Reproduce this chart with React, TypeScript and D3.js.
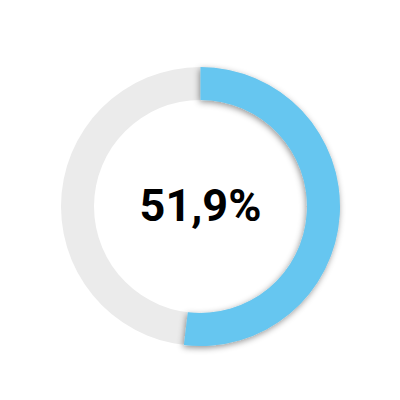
import React from "react";
import * as d3 from "d3";

const categories = ["value", "rest"];
const values = [51.9, 48.1];
const centerLabel = "51,9%";
const colors = ["#66c6f0", "#ebebeb"];

export default function App() {
  const W = 400, H = 400;
  const cx = 200.5, cy = 206.5;
  const outerR = 139.5, innerR = 106.5;
  const pie = d3.pie<number>().sort(null).value((d) => d);
  const arcs = pie(values);
  const arc = d3.arc<d3.PieArcDatum<number>>().innerRadius(innerR).outerRadius(outerR);
  const full = d3.arc()({ innerRadius: innerR, outerRadius: outerR, startAngle: 0, endAngle: Math.PI * 2 } as any) as string;
  return (
    <svg width={W} height={H} style={{ position: "absolute", left: 0, top: 0, background: "#fff" }}>
      <defs>
        <filter id="sh" x="-20%" y="-20%" width="140%" height="140%">
          <feDropShadow dx={-1} dy={2} stdDeviation={3} floodColor="#000" floodOpacity={0.42} />
        </filter>
      </defs>
      <g transform={`translate(${cx},${cy})`}>
        <path d={full} fill={colors[1]} />
        {arcs.map((a, i) =>
          i === 0 ? (
            <path key={categories[i]} d={arc(a) as string} fill={colors[0]} filter="url(#sh)" />
          ) : null
        )}
        <text
          x={0}
          y={220.5 - cy}
          textAnchor="middle"
          fontFamily="Roboto, sans-serif"
          fontWeight={700}
          fontSize={45}
          fill="#000"
        >
          {centerLabel}
        </text>
      </g>
    </svg>
  );
}
